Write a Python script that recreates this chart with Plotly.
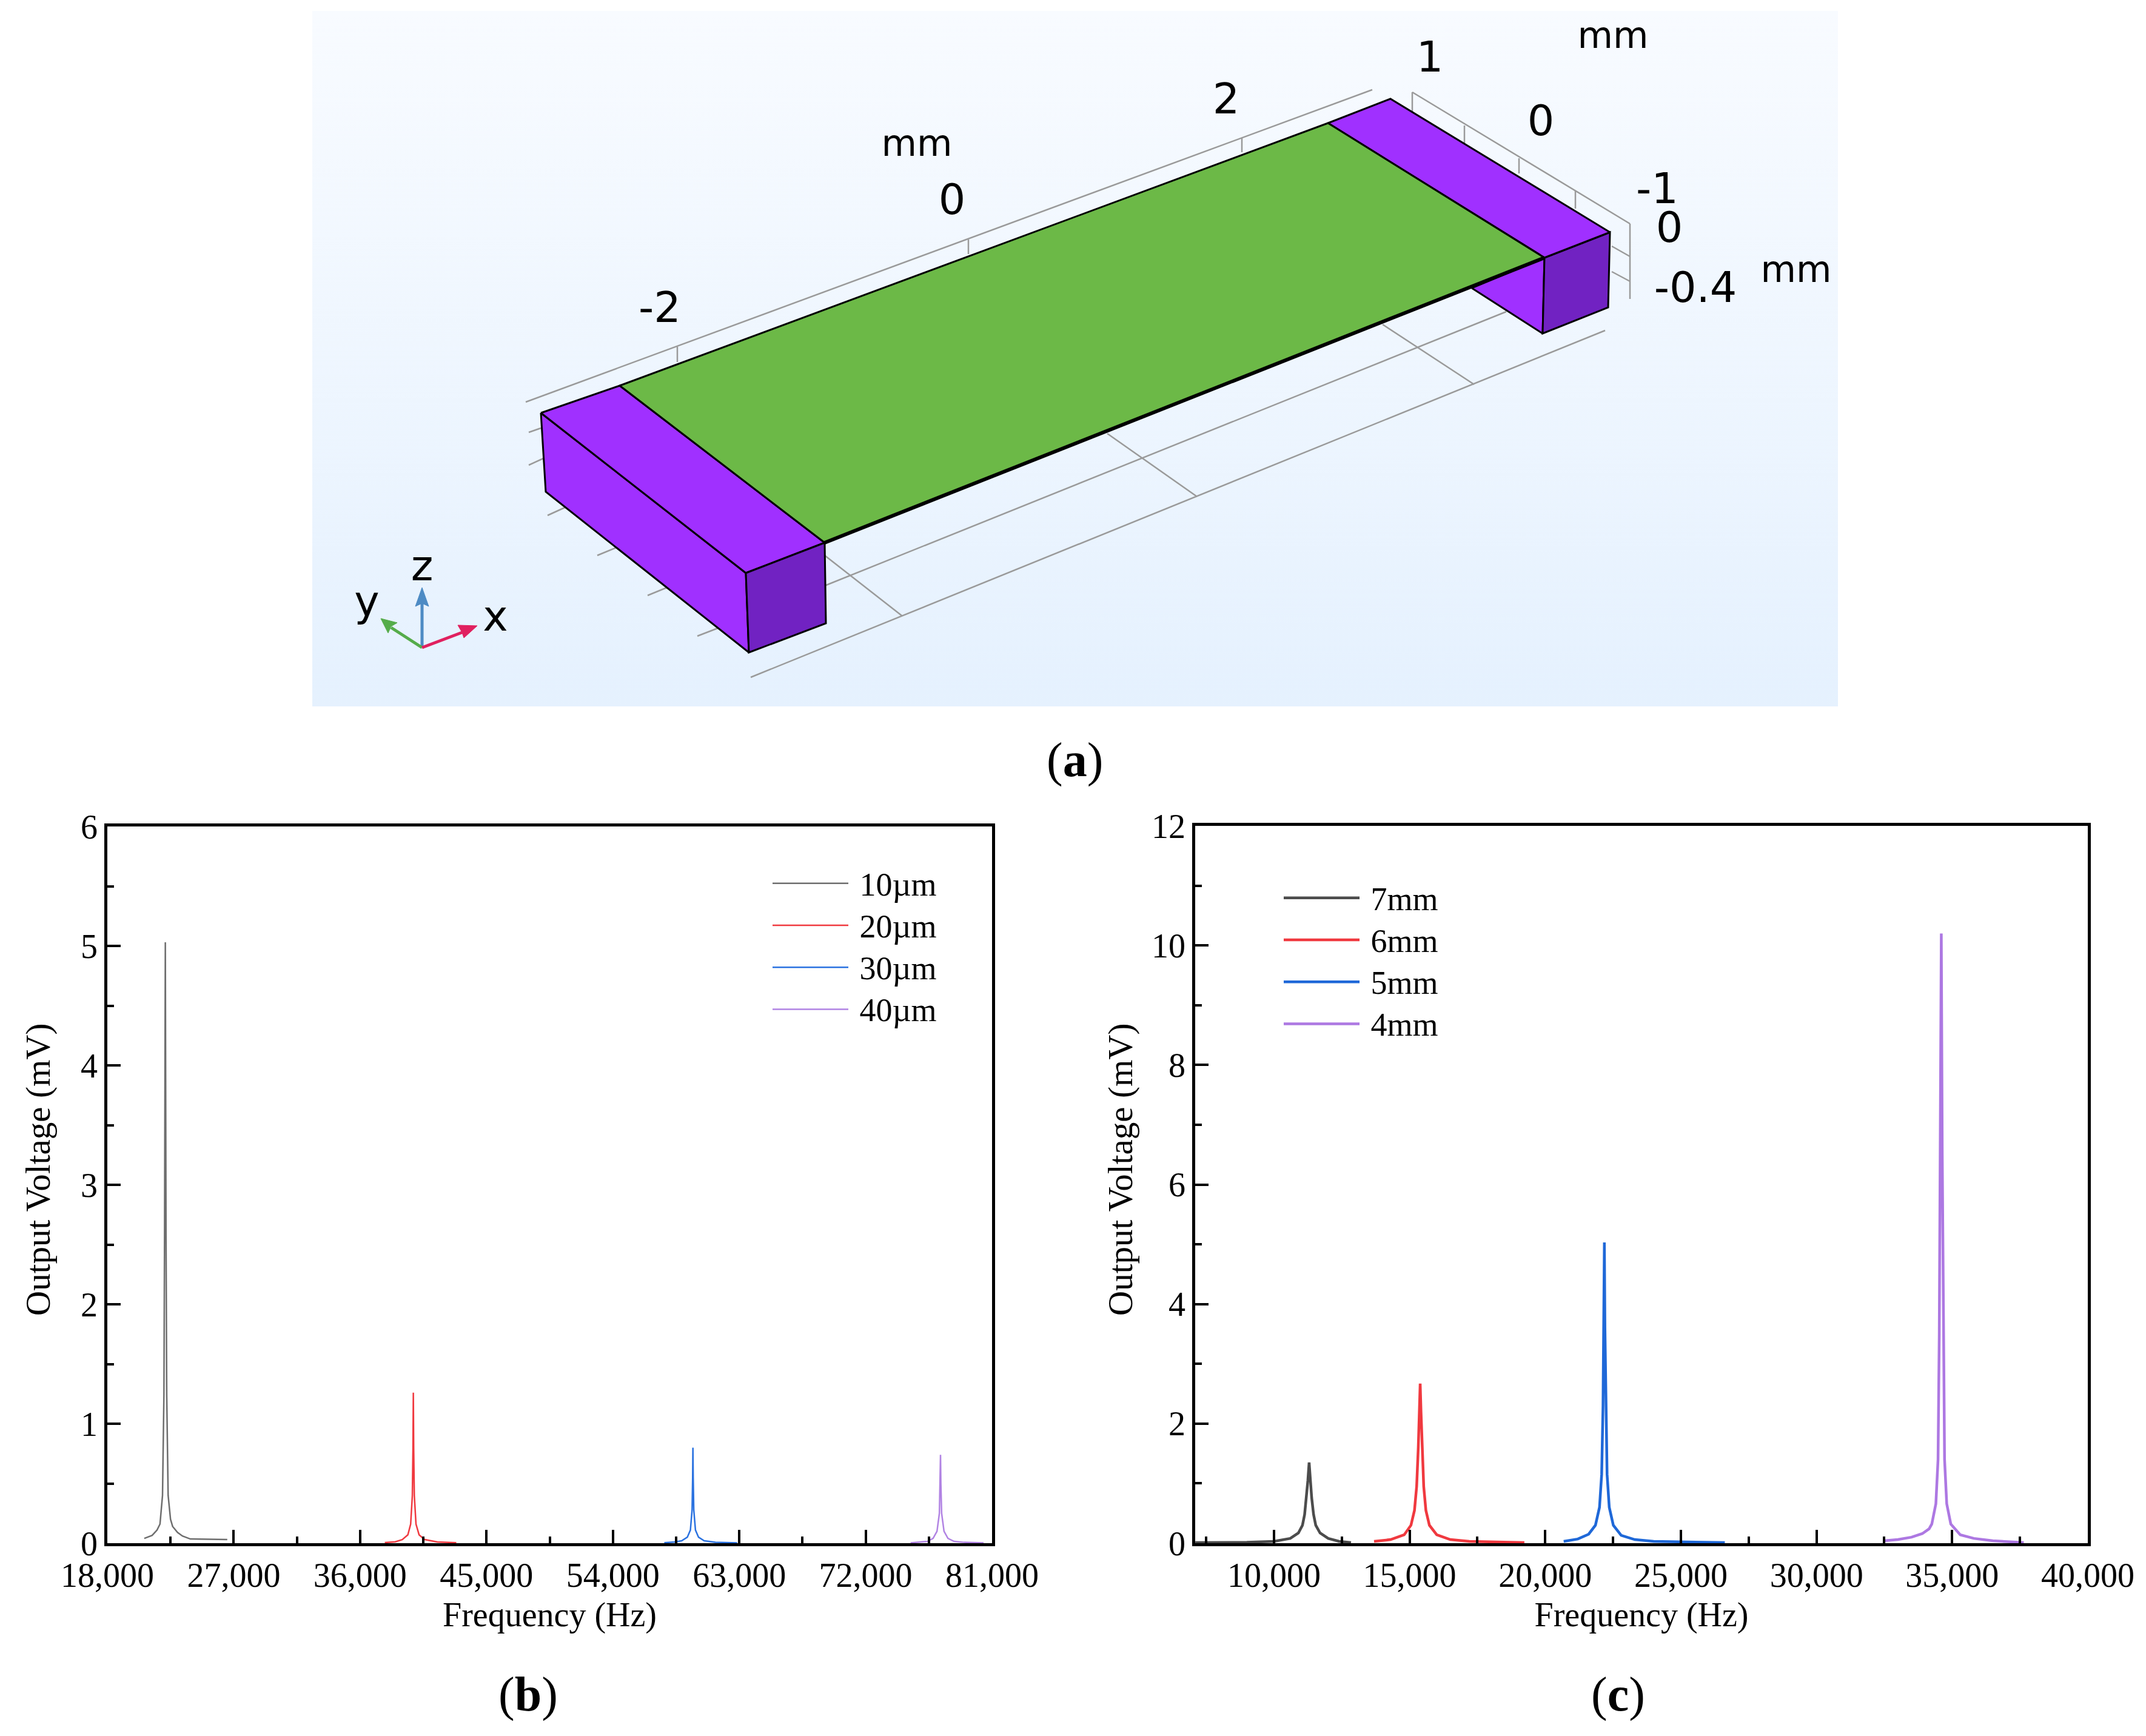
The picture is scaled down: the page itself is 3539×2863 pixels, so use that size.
import plotly.graph_objects as go

W, H = 3539, 2863
SERIF = "Liberation Serif"
SANS = "DejaVu Sans"

# ---------- panel (b) ----------
b_names = ["10µm", "20µm", "30µm", "40µm"]
b_colors = ["#6e6e6e", "#f0393f", "#2a72e0", "#b183e3"]
b10_f = [20630, 21190, 21540, 21750, 21930, 22030, 22075, 22130, 22180, 22230, 22330, 22500, 22650, 23000, 23350, 23910, 26540]
b10_v = [0.04, 0.065, 0.11, 0.16, 0.40, 1.24, 2.6, 5.03, 2.6, 1.24, 0.40, 0.2, 0.14, 0.09, 0.06, 0.035, 0.03]
b20_f = [37760, 38500, 39000, 39400, 39600, 39720, 39765, 39790, 39815, 39860, 39980, 40200, 40600, 41500, 42850]
b20_v = [0.005, 0.012, 0.03, 0.07, 0.16, 0.4, 0.8, 1.26, 0.8, 0.4, 0.16, 0.07, 0.03, 0.01, 0.004]
b30_f = [57660, 58400, 58900, 59300, 59520, 59640, 59680, 59700, 59720, 59760, 59880, 60100, 60500, 61300, 62850]
b30_v = [0.004, 0.01, 0.02, 0.05, 0.11, 0.28, 0.55, 0.80, 0.55, 0.28, 0.11, 0.05, 0.02, 0.008, 0.003]
b40_f = [75200, 75900, 76400, 76800, 77080, 77250, 77305, 77330, 77355, 77410, 77580, 77860, 78300, 79000, 80400]
b40_v = [0.003, 0.008, 0.015, 0.04, 0.1, 0.25, 0.5, 0.74, 0.5, 0.25, 0.1, 0.04, 0.015, 0.007, 0.002]
b_series = [(b10_f, b10_v), (b20_f, b20_v), (b30_f, b30_v), (b40_f, b40_v)]

# ---------- panel (c) ----------
c_names = ["7mm", "6mm", "5mm", "4mm"]
c_colors = ["#4c4c4c", "#f0393f", "#1f68d8", "#ad78e2"]
c7_f = [7100, 9000, 10000, 10600, 10900, 11050, 11130, 11200, 11250, 11296, 11340, 11390, 11460, 11540, 11700, 12000, 12400, 12840]
c7_v = [0.01, 0.015, 0.03, 0.08, 0.17, 0.3, 0.48, 0.76, 1.05, 1.35, 1.05, 0.76, 0.48, 0.3, 0.17, 0.08, 0.03, 0.01]
c6_f = [13690, 14300, 14800, 15050, 15180, 15260, 15320, 15360, 15390, 15420, 15460, 15520, 15600, 15730, 16000, 16500, 17200, 19230]
c6_v = [0.03, 0.06, 0.14, 0.3, 0.55, 0.95, 1.6, 2.2, 2.67, 2.2, 1.6, 0.95, 0.55, 0.3, 0.14, 0.06, 0.03, 0.01]
c5_f = [20680, 21200, 21600, 21850, 22000, 22080, 22130, 22160, 22180, 22200, 22230, 22280, 22360, 22510, 22800, 23300, 24000, 26620]
c5_v = [0.03, 0.07, 0.15, 0.3, 0.6, 1.15, 2.3, 3.6, 5.03, 3.6, 2.3, 1.15, 0.6, 0.3, 0.13, 0.06, 0.03, 0.01]
c4_f = [32500, 33000, 33500, 33900, 34150, 34250, 34400, 34480, 34525, 34565, 34600, 34635, 34675, 34720, 34800, 34950, 35300, 35800, 36500, 37640]
c4_v = [0.04, 0.06, 0.10, 0.16, 0.24, 0.32, 0.66, 1.4, 3.5, 6.5, 10.2, 6.5, 3.5, 1.4, 0.66, 0.32, 0.14, 0.08, 0.04, 0.01]
c_series = [(c7_f, c7_v), (c6_f, c6_v), (c5_f, c5_v), (c4_f, c4_v)]

# ---------- panel (a): the 3D view ----------
bg_x = [515, 3031, 3031, 515, 515]
bg_y = [18, 18, 1165, 1165, 18]
grid_segments = [
    ((867, 663), (2263, 148)),
    ((1117, 572), (1117, 597)), ((1597, 395), (1597, 419)), ((2048, 228), (2048, 251)),
    ((2329, 152), (2688, 369)), ((2688, 369), (2688, 493)),
    ((2329, 152), (2329, 185)), ((2415, 207), (2415, 236)), ((2505, 261), (2505, 286)), ((2598, 315), (2598, 344)),
    ((2658, 406), (2688, 423)), ((2658, 448), (2688, 464)),
    ((1360, 966), (2484, 514)), ((1238, 1117), (2647, 545)),
    ((2280, 535), (2431, 634)), ((1826, 715), (1974, 819)), ((1360, 916), (1488, 1016)),
    ((872, 713), (892, 706)), ((872, 767), (896, 756)), ((903, 850), (949, 829)),
    ((985, 916), (1026, 899)), ((1068, 982), (1107, 966)), ((1150, 1049), (1194, 1032)),
]
polygons = [
    ("#a030ff", [(892, 681), (1230, 945), (1235, 1076), (900, 811)]),
    ("#a030ff", [(892, 681), (1022, 636), (1360, 895), (1230, 945)]),
    ("#7122c2", [(1230, 945), (1360, 895), (1362, 1028), (1235, 1076)]),
    ("#a030ff", [(2427, 475), (2547, 425), (2544, 550)]),
    ("#7122c2", [(2547, 425), (2655, 383), (2652, 507), (2544, 550)]),
    ("#a030ff", [(2190, 203), (2293, 163), (2655, 383), (2547, 425)]),
    ("#6cb947", [(1022, 636), (2190, 203), (2547, 425), (1360, 895)]),
]
film_edge_x = [1360, 2547]
film_edge_y = [895, 425]
view_labels = ["-2", "0", "mm", "2", "1", "mm", "0", "-1", "0", "-0.4", "mm"]
view_label_x = [1088, 1570, 1512, 2022, 2358, 2660, 2541, 2733, 2753, 2796, 2962]
view_label_y = [513, 335, 242, 169, 100, 64, 205, 317, 381, 480, 450]
view_label_size = [70, 70, 60, 70, 70, 60, 70, 70, 70, 70, 60]
triad_origin = (696, 1068)
triad_arrows = [
    ("#4d8bc4", (696, 990), [(696, 969), (685, 1000), (696, 995), (707, 1000)]),
    ("#55ac4a", (645, 1035), [(628, 1020), (640, 1044), (645, 1033), (655, 1027)]),
    ("#e0205f", (762, 1043), [(787, 1032), (755, 1031), (762, 1043), (765, 1052)]),
]
triad_labels = ["z", "y", "x"]
triad_label_x = [696, 605, 817]
triad_label_y = [939, 998, 1022]
triad_label_size = [70, 70, 70]

fig = go.Figure()
A = dict(xaxis="x3", yaxis="y3", showlegend=False, hoverinfo="skip")

fig.add_trace(go.Scatter(x=bg_x, y=bg_y, mode="none", fill="toself",
                         fillgradient=dict(type="vertical",
                                           colorscale=[[0, "#e5f1fe"], [1, "#f8fbff"]]), **A))
gx, gy = [], []
for p, q in grid_segments:
    gx += [p[0], q[0], None]
    gy += [p[1], q[1], None]
fig.add_trace(go.Scatter(x=gx, y=gy, mode="lines", line=dict(color="#9a9a9a", width=2.5), **A))
for color, pts in polygons:
    xs = [p[0] for p in pts] + [pts[0][0]]
    ys = [p[1] for p in pts] + [pts[0][1]]
    fig.add_trace(go.Scatter(x=xs, y=ys, mode="lines", fill="toself", fillcolor=color,
                             line=dict(color="#000000", width=3), **A))
fig.add_trace(go.Scatter(x=film_edge_x, y=film_edge_y, mode="lines", line=dict(color="#000000", width=6), **A))
for color, end, head in triad_arrows:
    fig.add_trace(go.Scatter(x=[triad_origin[0], end[0]], y=[triad_origin[1], end[1]], mode="lines",
                             line=dict(color=color, width=5), **A))
    fig.add_trace(go.Scatter(x=[p[0] for p in head] + [head[0][0]], y=[p[1] for p in head] + [head[0][1]],
                             mode="lines", fill="toself", fillcolor=color, line=dict(color=color, width=1), **A))
fig.add_trace(go.Scatter(x=view_label_x + triad_label_x, y=view_label_y + triad_label_y,
                         text=view_labels + triad_labels, mode="text",
                         textposition="middle center",
                         textfont=dict(family=SANS, size=view_label_size + triad_label_size, color="#000000"), **A))

for names, colors, series, ax, ay, lg, width in [
    (b_names, b_colors, b_series, "x", "y", "legend", 2.5),
    (c_names, c_colors, c_series, "x2", "y2", "legend2", 4.5),
]:
    for name, color, (fx, vy) in zip(names, colors, series):
        fig.add_trace(go.Scatter(x=fx, y=vy, name=f"<span style='font-size:54px'>\u00a0{name}</span>",
                                 mode="lines", xaxis=ax, yaxis=ay, legend=lg,
                                 line=dict(color=color, width=width), hoverinfo="skip"))

tick = dict(ticks="inside", ticklen=22, tickwidth=4, tickcolor="#000000", showgrid=False, zeroline=False,
            showline=True, linecolor="#000000", linewidth=4.5, mirror=True, automargin=False,
            tickfont=dict(family=SERIF, size=56, color="#000000"),
            title_font=dict(family=SERIF, size=56, color="#000000"))
minor = dict(ticks="inside", ticklen=11, tickwidth=4, tickcolor="#000000", showgrid=False)

fig.update_layout(
    width=W, height=H, autosize=False, margin=dict(l=0, r=0, t=0, b=0, pad=0),
    paper_bgcolor="#ffffff", plot_bgcolor="rgba(0,0,0,0)", hovermode=False,
    xaxis=dict(domain=[177 / W, 1636 / W], range=[18000, 81000], tick0=18000, dtick=9000, tickformat=",d",
               anchor="y", minor=dict(dtick=4500, tick0=18000, **minor),
               title=dict(text="Frequency (Hz)", standoff=16), **tick),
    yaxis=dict(domain=[1 - 2545 / H, 1 - 1363 / H], range=[0, 6], tick0=0, dtick=1,
               anchor="x", minor=dict(dtick=0.5, tick0=0, **minor), **tick),
    xaxis2=dict(domain=[1971 / W, 3443 / W], range=[7096, 40000], tick0=10000, dtick=5000, tickformat=",d",
                anchor="y2", minor=dict(dtick=2500, tick0=7500, **minor),
                title=dict(text="Frequency (Hz)", standoff=16), **tick),
    yaxis2=dict(domain=[1 - 2545 / H, 1 - 1362 / H], range=[0, 12], tick0=0, dtick=2,
                anchor="x2", minor=dict(dtick=1, tick0=0, **minor), **tick),
    xaxis3=dict(domain=[0, 1], range=[0, W], visible=False, anchor="y3", automargin=False),
    yaxis3=dict(domain=[0, 1], range=[H, 0], visible=False, anchor="x3", automargin=False),
    legend=dict(x=1269 / W, y=1 - 1417 / H, xanchor="left", yanchor="top", bgcolor="rgba(0,0,0,0)",
                font=dict(family=SERIF, size=51, color="#000000"), itemwidth=125, traceorder="normal"),
    legend2=dict(x=2112 / W, y=1 - 1441 / H, xanchor="left", yanchor="top", bgcolor="rgba(0,0,0,0)",
                 font=dict(family=SERIF, size=51, color="#000000"), itemwidth=125, traceorder="normal"),
    annotations=[
        dict(text=t, x=x / W, y=1 - y / H, xref="paper", yref="paper", showarrow=False,
             xanchor="center", yanchor="middle",
             font=dict(family=SERIF, size=80, color="#000000"))
        for t, x, y in [("(<b>a</b>)", 1772, 1253), ("(<b>b</b>)", 871, 2794), ("(<b>c</b>)", 2668, 2794)]
    ] + [
        dict(text="Output Voltage (mV)", x=x / W, y=1 - 1929 / H, xref="paper", yref="paper", showarrow=False,
             textangle=-90, xanchor="center", yanchor="middle",
             font=dict(family=SERIF, size=57, color="#000000"))
        for x in (63, 1848)
    ],
)

fig.write_html("out.html", config=dict(displayModeBar=False), post_script="document.body.style.margin='0';")
